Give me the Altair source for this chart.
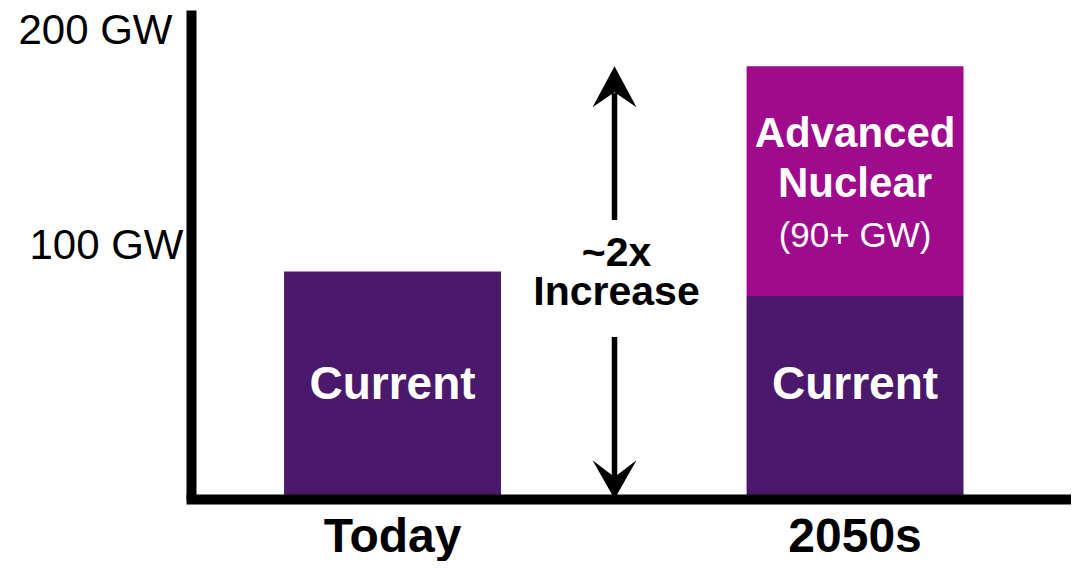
import altair as alt
import pandas as pd

FONT = "Liberation Sans"

# ---- data ----
categories = ["Today", "2050s"]
current_gw = [93, 83]
advanced_gw = [0, 94]
segments = ["Current", "Advanced Nuclear"]
seg_colors = ["#4A196B", "#9E0B8C"]
y_ticks = [100, 200]

# annotation anchors, expressed in GW along the value axis
current_label = "Current"
current_label_gw = 40.9
adv_lines = ["Advanced", "Nuclear"]
adv_lines_gw = [144.0, 123.5]
adv_sub = "(90+ GW)"
adv_sub_gw = 103.1
incr_lines = ["~2x", "Increase"]
incr_lines_gw = [95.3, 79.3]
shaft_top = [166.0, 66.3]
shaft_bottom = [114.1, 8.6]
total_2050 = current_gw[1] + advanced_gw[1]

rows = []
for c, cur, adv in zip(categories, current_gw, advanced_gw):
    rows.append({"period": c, "segment": "Current", "gw": cur, "ord": 0})
    if adv > 0:
        rows.append({"period": c, "segment": "Advanced Nuclear", "gw": adv, "ord": 1})
bars_df = pd.DataFrame(rows)

xscale = alt.Scale(domain=categories, paddingInner=0.531, paddingOuter=0.2168, align=0.464)
yscale = alt.Scale(domain=[0, 200], nice=False, zero=True)

x_axis = alt.Axis(
    title=None, labelAngle=0, labelFontSize=48, labelFontWeight="bold", labelFont=FONT,
    labelColor="black", ticks=False, tickSize=0, domainColor="black", domainWidth=10,
    domainCap="square", labelPadding=14, zindex=1, grid=False,
)
y_axis = alt.Axis(
    title=None, values=y_ticks, labelExpr="datum.value + ' GW'", ticks=False, tickSize=0,
    grid=False, domainColor="black", domainWidth=10, labelFontSize=42, labelColor="black",
    labelFont=FONT, labelFlush=True, zindex=1,
    labelPadding={"condition": {"test": "datum.value == 200", "value": 19}, "value": 8},
    labelOffset={"condition": {"test": "datum.value == 100", "value": -9}, "value": 0},
)


def X():
    return alt.X("period:N", scale=xscale, axis=x_axis, sort=categories)


bars = alt.Chart(bars_df).mark_bar().encode(
    x=X(),
    y=alt.Y("gw:Q", stack="zero", scale=yscale, axis=y_axis),
    color=alt.Color("segment:N", scale=alt.Scale(domain=segments, range=seg_colors), legend=None),
    order=alt.Order("ord:Q"),
)

cur_df = pd.DataFrame({"period": categories, "y": [current_label_gw] * 2, "t": [current_label] * 2})
cur_text = alt.Chart(cur_df).mark_text(
    font=FONT, fontSize=46, fontWeight="bold", color="white", baseline="alphabetic", align="center"
).encode(x=X(), y=alt.Y("y:Q", scale=yscale), text="t:N")

adv_df = pd.DataFrame({"period": [categories[1]] * 2, "y": adv_lines_gw, "t": adv_lines})
adv_text = alt.Chart(adv_df).mark_text(
    font=FONT, fontSize=42, fontWeight="bold", color="white", baseline="alphabetic", align="center"
).encode(x=X(), y=alt.Y("y:Q", scale=yscale), text="t:N")

sub_df = pd.DataFrame({"period": [categories[1]], "y": [adv_sub_gw], "t": [adv_sub]})
sub_text = alt.Chart(sub_df).mark_text(
    font=FONT, fontSize=35, color="white", baseline="alphabetic", align="center"
).encode(x=X(), y=alt.Y("y:Q", scale=yscale), text="t:N")

inc_df = pd.DataFrame({"period": [categories[0]] * 2, "y": incr_lines_gw, "t": incr_lines})
inc_text = alt.Chart(inc_df).mark_text(
    font=FONT, fontSize=41, fontWeight="bold", color="black", baseline="alphabetic",
    align="center", xOffset=224,
).encode(x=X(), y=alt.Y("y:Q", scale=yscale), text="t:N")

shaft_df = pd.DataFrame({"period": [categories[0]] * 2, "y": shaft_top, "y2": shaft_bottom})
shafts = alt.Chart(shaft_df).mark_rule(color="black", strokeWidth=5.5, xOffset=222).encode(
    x=X(), y=alt.Y("y:Q", scale=yscale), y2="y2:Q"
)

up_path = "M0,0 L1,1.86 L0,1.18 L-1,1.86 Z"
down_path = "M0,0 L1,-1.76 L0,-1.0 L-1,-1.76 Z"
up_df = pd.DataFrame({"period": [categories[0]], "y": [total_2050]})
down_df = pd.DataFrame({"period": [categories[0]], "y": [0]})
up_head = alt.Chart(up_df).mark_point(
    shape=up_path, filled=True, size=1936, color="black", opacity=1, strokeWidth=0, xOffset=222
).encode(x=X(), y=alt.Y("y:Q", scale=yscale))
down_head = alt.Chart(down_df).mark_point(
    shape=down_path, filled=True, size=1936, color="black", opacity=1, strokeWidth=0, xOffset=222
).encode(x=X(), y=alt.Y("y:Q", scale=yscale))

chart = (
    alt.layer(bars, cur_text, adv_text, sub_text, shafts, up_head, down_head, inc_text)
    .properties(
        width=880, height=489,
        autosize=alt.AutoSizeParams(type="none"),
        padding={"left": 183, "top": 2, "right": 0, "bottom": 62},
        background="white",
    )
    .configure_view(stroke=None)
)

chart.save("out.html", embed_options={"renderer": "svg", "actions": False})
